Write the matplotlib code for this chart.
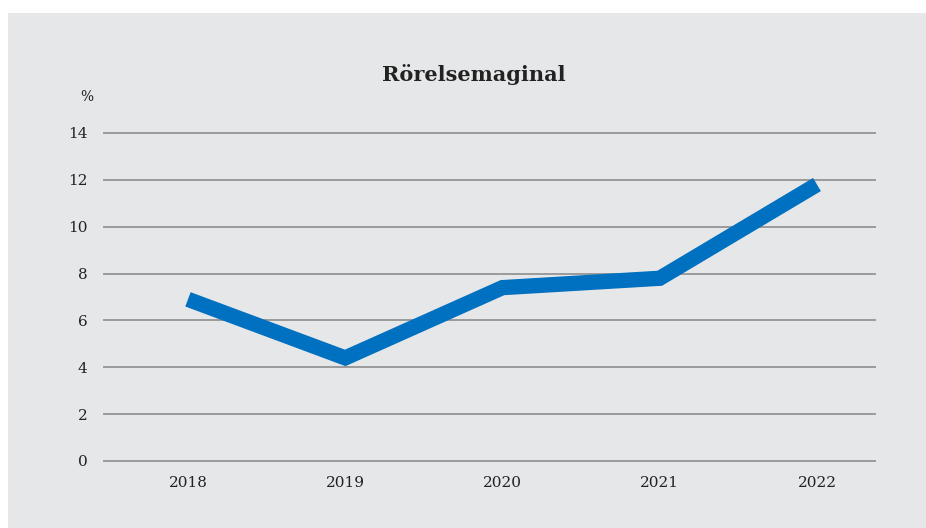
import matplotlib.pyplot as plt
from matplotlib.patches import Rectangle

years = ['2018', '2019', '2020', '2021', '2022']
margin = [6.9, 4.4, 7.4, 7.8, 11.8]
y_ticks = [0, 2, 4, 6, 8, 10, 12, 14]

bg = '#e6e7e9'
plt.rcParams['font.family'] = ['DejaVu Serif']

fig = plt.figure(figsize=(9.26, 5.28), dpi=100)
fig.patch.set_facecolor('white')
fig.patches.append(Rectangle((8 / 926, 0), 1, 1 - 13 / 528, transform=fig.transFigure,
                             facecolor=bg, edgecolor='none', zorder=-10))

ax = fig.add_axes([104 / 926, 1 - 461 / 528, 771 / 926, 328 / 528])
ax.patch.set_alpha(0)

x = list(range(len(years)))
ax.plot(x, margin, color='#0070c0', linewidth=11, solid_joinstyle='miter',
        solid_capstyle='butt', clip_on=False, zorder=3)

ax.set_ylim(0, 14)
ax.set_xlim(-0.534, 4.369)
ax.set_yticks(y_ticks)
ax.set_xticks(x)
ax.set_xticklabels(years)
ax.yaxis.grid(True, color='#9a9a9a', linewidth=1.4)
for gl in ax.get_ygridlines():
    gl.set_clip_on(False)
ax.set_axisbelow(True)
for s in ax.spines.values():
    s.set_visible(False)
ax.tick_params(length=0, labelsize=11, colors='#222222')
ax.tick_params(axis='x', pad=11)
ax.tick_params(axis='y', pad=12)

fig.text(474 / 926, 1 - 75 / 528, 'Rörelsemaginal', ha='center', va='center',
         fontsize=15, fontweight='bold', color='#222222')
fig.text(87 / 926, 1 - 97 / 528, '%', ha='center', va='center', fontsize=10, color='#222222')

fig.savefig('out.png', dpi=100, facecolor=fig.get_facecolor())
